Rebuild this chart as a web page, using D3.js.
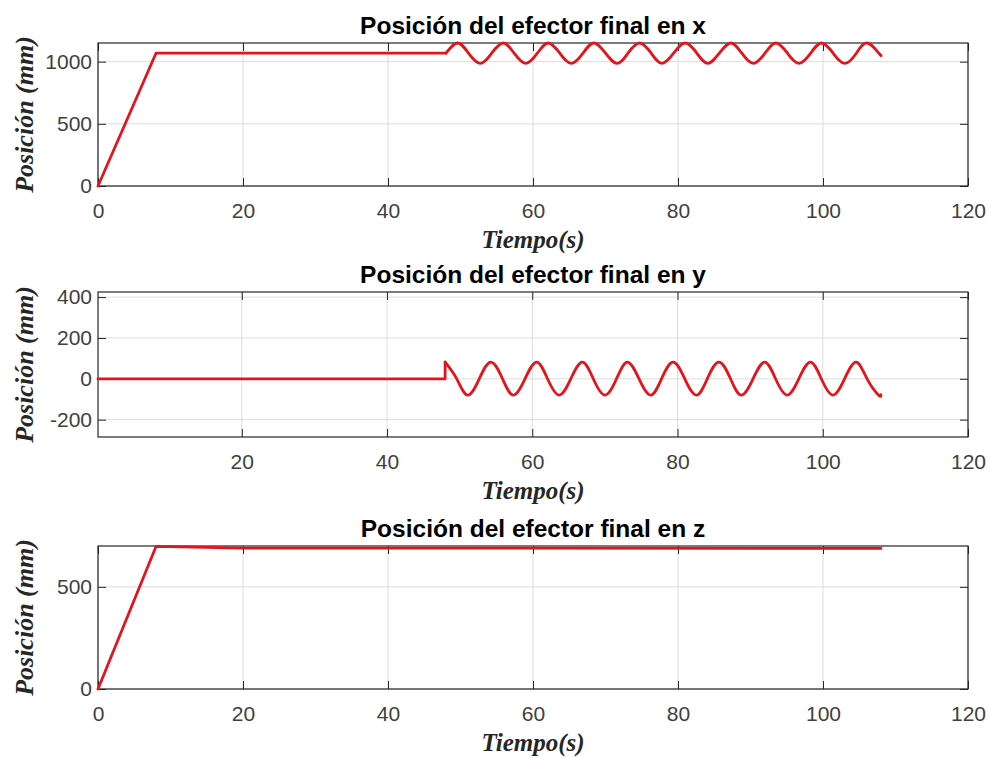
<!DOCTYPE html>
<html>
<head>
<meta charset="utf-8">
<script src="https://cdn.jsdelivr.net/npm/d3@7"></script>
<style>
  body { margin: 0; background: #fff; }
  svg { display: block; }
</style>
</head>
<body>
<svg id="chart" width="990" height="758"></svg>
<script>
// tiempo (s) y posicion (mm)
const tiempoRampaX = [0, 8, 48]
const posRampaX    = [0, 1068, 1068]

const tiempoRampaY = [0.2, 48, 48]
const posRampaY    = [0, 0, 82]

const tiempoOsc = [48, 49.6, 51.1, 52.7, 54.3, 55.9, 57.4, 59.0, 60.6, 62.1, 63.7, 65.3, 66.9, 68.4,
                   70.0, 71.6, 73.1, 74.7, 76.3, 77.8, 79.4, 81.0, 82.6, 84.1, 85.7, 87.3, 88.8, 90.4,
                   92.0, 93.5, 95.1, 96.7, 98.3, 99.8, 101.4, 103.0, 104.6, 106.1, 107.7, 108.0]
const posOscX = [1068,
                 1150, 1068, 986, 1068, 1150, 1068, 986, 1068, 1150, 1068, 986, 1068,
                 1150, 1068, 986, 1068, 1150, 1068, 986, 1068, 1150, 1068, 986, 1068,
                 1150, 1068, 986, 1068, 1150, 1068, 986, 1068, 1150, 1068, 986, 1068,
                 1150, 1068, 1052]
const posOscY = [82,
                 0, -80, 0, 82, 0, -80, 0, 82, 0, -80, 0, 82,
                 0, -80, 0, 82, 0, -80, 0, 82, 0, -80, 0, 82,
                 0, -80, 0, 82, 0, -80, 0, 82, 0, -80, 0, 82,
                 0, -80, -78]

const tiempoZ = [0, 8, 20, 108]
const posZ    = [0, 698, 690, 688]

const titulos   = ['Posición del efector final en x', 'Posición del efector final en y', 'Posición del efector final en z']
const ticksX    = [[0, 20, 40, 60, 80, 100, 120], [20, 40, 60, 80, 100, 120], [0, 20, 40, 60, 80, 100, 120]]
const ticksY    = [[0, 500, 1000], [-200, 0, 200, 400], [0, 500]]
const dominiosX = [[0, 120], [0.2, 120], [0, 120]]
const dominiosY = [[0, 1150], [-285, 425], [0, 700]]

const zip = (t, v) => t.map((d, i) => [d, v[i]])

const panels = [
  { top: 43,  bottom: 186, lineal: [zip(tiempoRampaX, posRampaX)], suave: [zip(tiempoOsc, posOscX)] },
  { top: 292, bottom: 437, lineal: [zip(tiempoRampaY, posRampaY)], suave: [zip(tiempoOsc, posOscY)] },
  { top: 546, bottom: 689, lineal: [zip(tiempoZ, posZ)], suave: [] }
]

const left = 98, right = 968
const lineColor = '#e3141c'
const svg = d3.select('#chart')

// matlab prints plain hyphen for negatives
const fmt = d => String(d)

panels.forEach((p, i) => {
  const x = d3.scaleLinear().domain(dominiosX[i]).range([left, right])
  const y = d3.scaleLinear().domain(dominiosY[i]).range([p.bottom, p.top])
  const g = svg.append('g')

  // grid
  g.selectAll('.gx').data(ticksX[i]).enter().append('line')
    .attr('x1', d => x(d)).attr('x2', d => x(d))
    .attr('y1', p.top).attr('y2', p.bottom)
    .attr('stroke', '#dcdcdc').attr('stroke-width', 1)
  g.selectAll('.gy').data(ticksY[i]).enter().append('line')
    .attr('x1', left).attr('x2', right)
    .attr('y1', d => y(d)).attr('y2', d => y(d))
    .attr('stroke', '#dcdcdc').attr('stroke-width', 1)

  // axes, ticks pointing inward on all four sides
  const styleAxis = sel => {
    sel.select('.domain').remove()
    sel.selectAll('line').attr('stroke', '#262626')
    sel.selectAll('text')
      .attr('fill', '#404040')
      .style('font-family', '"Liberation Sans", Arial, sans-serif')
      .style('font-size', '21px')
  }
  g.append('g').attr('transform', `translate(0,${p.bottom})`)
    .call(d3.axisBottom(x).tickValues(ticksX[i]).tickSizeInner(-8).tickSizeOuter(0).tickPadding(17).tickFormat(fmt))
    .call(styleAxis)
  g.append('g').attr('transform', `translate(0,${p.top})`)
    .call(d3.axisTop(x).tickValues(ticksX[i]).tickSizeInner(-8).tickSizeOuter(0).tickFormat(''))
    .call(styleAxis)
  g.append('g').attr('transform', `translate(${left},0)`)
    .call(d3.axisLeft(y).tickValues(ticksY[i]).tickSizeInner(-8).tickSizeOuter(0).tickPadding(6).tickFormat(fmt))
    .call(styleAxis)
  g.append('g').attr('transform', `translate(${right},0)`)
    .call(d3.axisRight(y).tickValues(ticksY[i]).tickSizeInner(-8).tickSizeOuter(0).tickFormat(''))
    .call(styleAxis)

  g.append('rect')
    .attr('x', left).attr('y', p.top)
    .attr('width', right - left).attr('height', p.bottom - p.top)
    .attr('fill', 'none').attr('stroke', '#262626').attr('stroke-width', 1.2)

  // data
  const lineal = d3.line().x(d => x(d[0])).y(d => y(d[1]))
  const suave = d3.line().x(d => x(d[0])).y(d => y(d[1])).curve(d3.curveNatural)
  p.lineal.forEach(s => {
    g.append('path').attr('d', lineal(s))
      .attr('fill', 'none').attr('stroke', lineColor).attr('stroke-width', 2.8)
      .attr('stroke-linejoin', 'round').attr('stroke-linecap', 'round')
  })
  p.suave.forEach(s => {
    g.append('path').attr('d', suave(s))
      .attr('fill', 'none').attr('stroke', lineColor).attr('stroke-width', 2.8)
      .attr('stroke-linejoin', 'round').attr('stroke-linecap', 'round')
  })

  // titles and labels
  g.append('text')
    .attr('x', (left + right) / 2).attr('y', p.top - 9)
    .attr('text-anchor', 'middle')
    .style('font-family', '"Liberation Sans", Arial, sans-serif')
    .style('font-weight', 'bold').style('font-size', '24.5px')
    .attr('fill', '#000')
    .text(titulos[i])

  g.append('text')
    .attr('x', (left + right) / 2).attr('y', p.bottom + 62)
    .attr('text-anchor', 'middle')
    .style('font-family', '"Liberation Serif", "Times New Roman", serif')
    .style('font-weight', 'bold').style('font-style', 'italic').style('font-size', '25px')
    .attr('fill', '#262626')
    .text('Tiempo(s)')

  g.append('text')
    .attr('transform', `translate(33,${(p.top + p.bottom) / 2}) rotate(-90)`)
    .attr('text-anchor', 'middle')
    .style('font-family', '"Liberation Serif", "Times New Roman", serif')
    .style('font-weight', 'bold').style('font-style', 'italic').style('font-size', '26px')
    .attr('fill', '#262626')
    .text('Posición (mm)')
})
</script>
</body>
</html>
